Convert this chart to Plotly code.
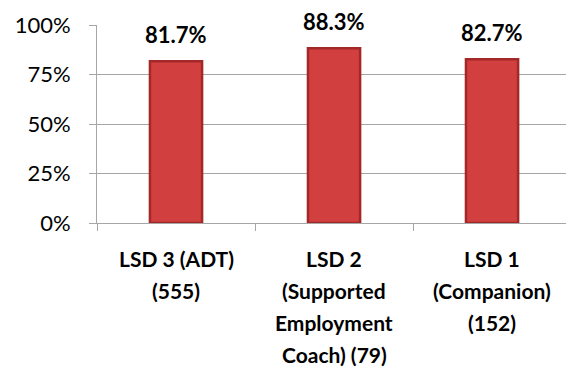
import plotly.graph_objects as go

# Share of participants by service line
categories = ["LSD 3 (ADT)", "LSD 2", "LSD 1"]
label_lines = [
    ["LSD 3 (ADT)", "(555)"],
    ["LSD 2", "(Supported", "Employment", "Coach) (79)"],
    ["LSD 1", "(Companion)", "(152)"],
]
values = [0.817, 0.883, 0.827]
y_ticks = [0, 0.25, 0.5, 0.75, 1.0]
y_tick_text = ["0%", "25%", "50%", "75%", "100%"]

FONT = "Lato"
GRID = "#a6a6a6"

fig = go.Figure()
fig.add_trace(go.Bar(
    x=categories,
    y=values,
    width=0.33,
    marker=dict(color="#d23f3f", line=dict(color="#a32828", width=2.5)),
    hoverinfo="skip",
))

annotations = []
# Value labels above each bar
for c, v in zip(categories, values):
    annotations.append(dict(
        x=c, y=v, xref="x", yref="y", text=f"<b>{v*100:.1f}%</b>",
        showarrow=False, yshift=27, font=dict(family=FONT, size=22, color="#000"),
    ))
# Multi-line category labels below the axis
for c, lines in zip(categories, label_lines):
    for i, line in enumerate(lines):
        annotations.append(dict(
            x=c, y=0, xref="x", yref="y", text=f"<b>{line}</b>",
            showarrow=False, yshift=-35 - 32 * i,
            font=dict(family=FONT, size=21, color="#000"),
        ))

fig.update_layout(
    width=566, height=367,
    margin=dict(l=97, r=0, t=25, b=144),
    paper_bgcolor="white", plot_bgcolor="white",
    showlegend=False,
    annotations=annotations,
    font=dict(family=FONT, color="#000"),
)
fig.update_xaxes(
    type="category", range=[-0.5, 2.468],
    showticklabels=False, showgrid=False,
    showline=True, linecolor=GRID, linewidth=1,
    ticks="outside", tickson="boundaries", ticklen=7, tickcolor=GRID,
)
fig.update_yaxes(
    range=[0, 1], tickvals=y_ticks, ticktext=y_tick_text,
    showgrid=True, gridcolor=GRID, gridwidth=1,
    showline=True, linecolor=GRID, linewidth=1,
    ticks="outside", ticklen=7, tickcolor=GRID, ticklabelstandoff=14,
    tickfont=dict(family=FONT, size=22, color="#000"),
    zeroline=False,
)

fig.write_html("out.html")
